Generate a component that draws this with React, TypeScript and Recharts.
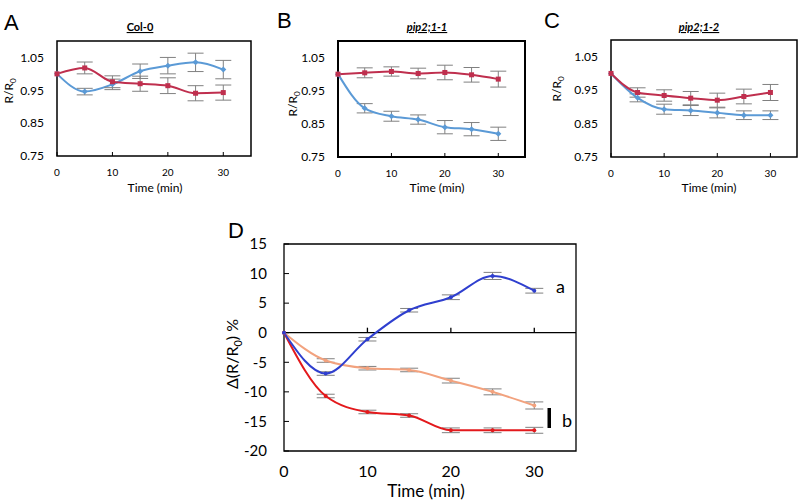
import React from "react";
import {
  LineChart,
  Line,
  XAxis,
  YAxis,
  ErrorBar,
  ReferenceArea,
  ReferenceLine,
} from "recharts";

const times = [0, 5, 10, 15, 20, 25, 30];

// panel A, Col-0
const colRed = [1.0, 1.018, 0.976, 0.97, 0.964, 0.941, 0.943];
const colRedErr = [null, 0.018, 0.018, 0.023, 0.024, 0.023, 0.023];
const colBlue = [1.0, 0.946, 0.968, 1.008, 1.025, 1.035, 1.013];
const colBlueErr = [null, 0.01, 0.016, 0.022, 0.025, 0.028, 0.028];

// panel B, pip2;1-1
const p11Red = [1.0, 1.004, 1.008, 1.002, 1.005, 0.998, 0.985];
const p11RedErr = [null, 0.015, 0.014, 0.016, 0.022, 0.022, 0.024];
const p11Blue = [1.0, 0.897, 0.873, 0.863, 0.84, 0.834, 0.82];
const p11BlueErr = [null, 0.014, 0.015, 0.014, 0.02, 0.02, 0.02];

// panel C, pip2;1-2
const p12Red = [1.0, 0.943, 0.934, 0.926, 0.92, 0.931, 0.943];
const p12RedErr = [null, 0.014, 0.017, 0.02, 0.021, 0.022, 0.024];
const p12Blue = [1.0, 0.927, 0.893, 0.889, 0.882, 0.875, 0.875];
const p12BlueErr = [null, 0.012, 0.015, 0.015, 0.015, 0.013, 0.013];

// panel D
const dBlue = [0, -6.9, -1.1, 3.8, 6.0, 9.6, 7.1];
const dBlueErr = [null, 0.3, 0.3, 0.3, 0.4, 0.6, 0.4];
const dOrange = [0, -4.7, -6.0, -6.3, -8.1, -10.0, -12.3];
const dOrangeErr = [null, 0.3, 0.3, 0.3, 0.4, 0.5, 0.6];
const dRed = [0, -10.7, -13.4, -14.0, -16.5, -16.5, -16.5];
const dRedErr = [null, 0.3, 0.3, 0.3, 0.4, 0.4, 0.5];

const smallXTicks = [0, 10, 20, 30];
const smallYTicks = [0.75, 0.85, 0.95, 1.05];
const dYTicks = [-20, -15, -10, -5, 0, 5, 10, 15];

const FONT = "Lato, 'Open Sans', sans-serif";
const RED = "#bf2f4e";
const BLUE = "#5b9ad6";
const ERR = "#808080";

const squareDot = (color: string) => (p: any) =>
  <rect key={p.index} x={p.cx - 2.5} y={p.cy - 2.5} width={5} height={5} fill={color} />;
const diamondDot = (color: string) => (p: any) =>
  <path key={p.index} d={`M${p.cx},${p.cy - 3}L${p.cx + 3},${p.cy}L${p.cx},${p.cy + 3}L${p.cx - 3},${p.cy}Z`} fill={color} />;

const SmallPanel = ({
  left,
  width,
  yWidth,
  right,
  top,
  bottom,
  red,
  redErr,
  blue,
  blueErr,
  frame = 1.5,
}: any) => {
  const data = times.map((t, i) => ({
    t,
    red: red[i],
    redErr: redErr[i],
    blue: blue[i],
    blueErr: blueErr[i],
  }));
  return (
    <div style={{ position: "absolute", left, top: 0 }}>
      <LineChart
        width={width}
        height={200}
        data={data}
        margin={{ top, right, left: 0, bottom: 0 }}
      >
        <XAxis
          dataKey="t"
          type="number"
          domain={[0, 35]}
          ticks={smallXTicks}
          height={200 - bottom}
          axisLine={false}
          stroke="#000"
          tickSize={-4}
          tickMargin={17}
          tick={{ fontSize: 10, fill: "#000", fontFamily: FONT }}
        />
        <YAxis
          type="number"
          domain={[0.75, 1.1]}
          ticks={smallYTicks}
          width={yWidth}
          axisLine={false}
          tickLine={false}
          tickSize={0}
          tickMargin={13}
          tickFormatter={(v: number) => v.toFixed(2)}
          tick={{ fontSize: 12, fill: "#000", fontFamily: FONT }}
        />
        <ReferenceArea
          x1={0}
          x2={35}
          y1={0.75}
          y2={1.1}
          fill="none"
          fillOpacity={0}
          stroke="#000"
          strokeWidth={frame}
        />
        <Line
          dataKey="blue"
          type="monotone"
          stroke={BLUE}
          strokeWidth={2}
          dot={diamondDot(BLUE)}
          isAnimationActive={false}
        >
          <ErrorBar dataKey="blueErr" width={8} stroke={ERR} strokeWidth={1} direction="y" />
        </Line>
        <Line
          dataKey="red"
          type="monotone"
          stroke={RED}
          strokeWidth={2}
          dot={squareDot(RED)}
          isAnimationActive={false}
        >
          <ErrorBar dataKey="redErr" width={8} stroke={ERR} strokeWidth={1} direction="y" />
        </Line>
      </LineChart>
    </div>
  );
};

const PanelD = () => {
  const data = times.map((t, i) => ({
    t,
    blue: dBlue[i],
    blueErr: dBlueErr[i],
    orange: dOrange[i],
    orangeErr: dOrangeErr[i],
    red: dRed[i],
    redErr: dRedErr[i],
  }));
  const dot = (color: string) => (p: any) =>
    <circle key={p.index} cx={p.cx} cy={p.cy} r={2} fill={color} />;
  return (
    <div style={{ position: "absolute", left: 190, top: 180 }}>
      <LineChart
        width={400}
        height={322}
        data={data}
        margin={{ top: 64, right: 14, left: 0, bottom: 0 }}
      >
        <XAxis
          dataKey="t"
          type="number"
          domain={[0, 35]}
          ticks={smallXTicks}
          height={51}
          axisLine={false}
          tickLine={false}
          tickSize={0}
          tickMargin={15}
          tick={{ fontSize: 16, fill: "#000", fontFamily: FONT }}
        />
        <YAxis
          type="number"
          domain={[-20, 15]}
          ticks={dYTicks}
          width={94}
          axisLine={false}
          stroke="#000"
          tickSize={-5}
          tickMargin={22}
          tick={{ fontSize: 15, fill: "#000", fontFamily: FONT }}
        />
        <ReferenceArea
          x1={0}
          x2={35}
          y1={-20}
          y2={15}
          fill="none"
          fillOpacity={0}
          stroke="#000"
          strokeWidth={1.3}
        />
        <ReferenceLine y={0} stroke="#000" strokeWidth={1.3} />
        {smallXTicks.slice(1).map((t) => (
          <ReferenceLine
            key={t}
            segment={[
              { x: t, y: 0 },
              { x: t, y: 0.85 },
            ]}
            stroke="#000"
            strokeWidth={1.3}
          />
        ))}
        <Line
          dataKey="orange"
          type="monotone"
          stroke="#f2a27e"
          strokeWidth={2}
          dot={dot("#f2a27e")}
          isAnimationActive={false}
        >
          <ErrorBar dataKey="orangeErr" width={9} stroke={ERR} strokeWidth={1} direction="y" />
        </Line>
        <Line
          dataKey="red"
          type="monotone"
          stroke="#e3191c"
          strokeWidth={2}
          dot={dot("#e3191c")}
          isAnimationActive={false}
        >
          <ErrorBar dataKey="redErr" width={9} stroke={ERR} strokeWidth={1} direction="y" />
        </Line>
        <Line
          dataKey="blue"
          type="monotone"
          stroke="#2f3fcf"
          strokeWidth={2}
          dot={dot("#2f3fcf")}
          isAnimationActive={false}
        >
          <ErrorBar dataKey="blueErr" width={9} stroke={ERR} strokeWidth={1} direction="y" />
        </Line>
      </LineChart>
    </div>
  );
};

const RLabel = ({ x, y }: { x: number; y: number }) => (
  <text
    transform={`translate(${x},${y}) rotate(-90)`}
    textAnchor="middle"
    fontSize={12}
    fontFamily={FONT}
    fill="#000"
  >
    R/R<tspan fontSize={8} dy={3}>0</tspan>
  </text>
);

const Overlay = () => (
  <svg
    width={802}
    height={502}
    style={{ position: "absolute", left: 0, top: 0, pointerEvents: "none" }}
  >
    <g fontFamily="'Liberation Sans', Arial, sans-serif" fontSize={22} fill="#000">
      <text x={4} y={30}>A</text>
      <text x={277} y={28}>B</text>
      <text x={544} y={28}>C</text>
      <text x={228} y={238}>D</text>
    </g>
    <g fontFamily={FONT} fontSize={11} fontWeight="bold" fill="#000" textAnchor="middle">
      <text x={140} y={31} textDecoration="underline">Col-0</text>
      <text x={427} y={31} fontStyle="italic" textDecoration="underline">pip2;1-1</text>
      <text x={699} y={31} fontStyle="italic" textDecoration="underline">pip2;1-2</text>
    </g>
    <RLabel x={12.5} y={91} />
    <RLabel x={297} y={104} />
    <RLabel x={560.5} y={89} />
    <g fontFamily={FONT} fontSize={12} fill="#000" textAnchor="middle">
      <text x={155} y={192}>Time (min)</text>
      <text x={437} y={192}>Time (min)</text>
      <text x={709} y={192}>Time (min)</text>
    </g>
    <text x={426} y={497} fontFamily={FONT} fontSize={17} textAnchor="middle" fill="#000">
      Time (min)
    </text>
    <text
      transform="translate(238,354) rotate(-90)"
      textAnchor="middle"
      fontFamily={FONT}
      fontSize={16}
      fill="#000"
    >
      Δ(R/R<tspan fontSize={11} dy={4}>0</tspan>
      <tspan dy={-4}>) %</tspan>
    </text>
    <text x={556} y={293} fontFamily={FONT} fontSize={18} fill="#000">a</text>
    <text x={562} y={427} fontFamily={FONT} fontSize={18} fill="#000">b</text>
    <rect x={547.5} y={408} width={3.5} height={20} fill="#000" />
  </svg>
);

export default function App() {
  return (
    <div
      style={{
        position: "absolute",
        left: 0,
        top: 0,
        width: 802,
        height: 502,
        background: "#fff",
        overflow: "hidden",
      }}
    >
      <SmallPanel
        left={0}
        width={265}
        yWidth={57}
        right={14}
        top={41}
        bottom={156}
        red={colRed}
        redErr={colRedErr}
        blue={colBlue}
        blueErr={colBlueErr}
      />
      <SmallPanel
        left={265}
        width={270}
        yWidth={73}
        right={10}
        top={41}
        bottom={157}
        red={p11Red}
        redErr={p11RedErr}
        blue={p11Blue}
        blueErr={p11BlueErr}
        frame={2}
      />
      <SmallPanel
        left={530}
        width={272}
        yWidth={81}
        right={5}
        top={40}
        bottom={157}
        red={p12Red}
        redErr={p12RedErr}
        blue={p12Blue}
        blueErr={p12BlueErr}
      />
      <PanelD />
      <Overlay />
    </div>
  );
}
